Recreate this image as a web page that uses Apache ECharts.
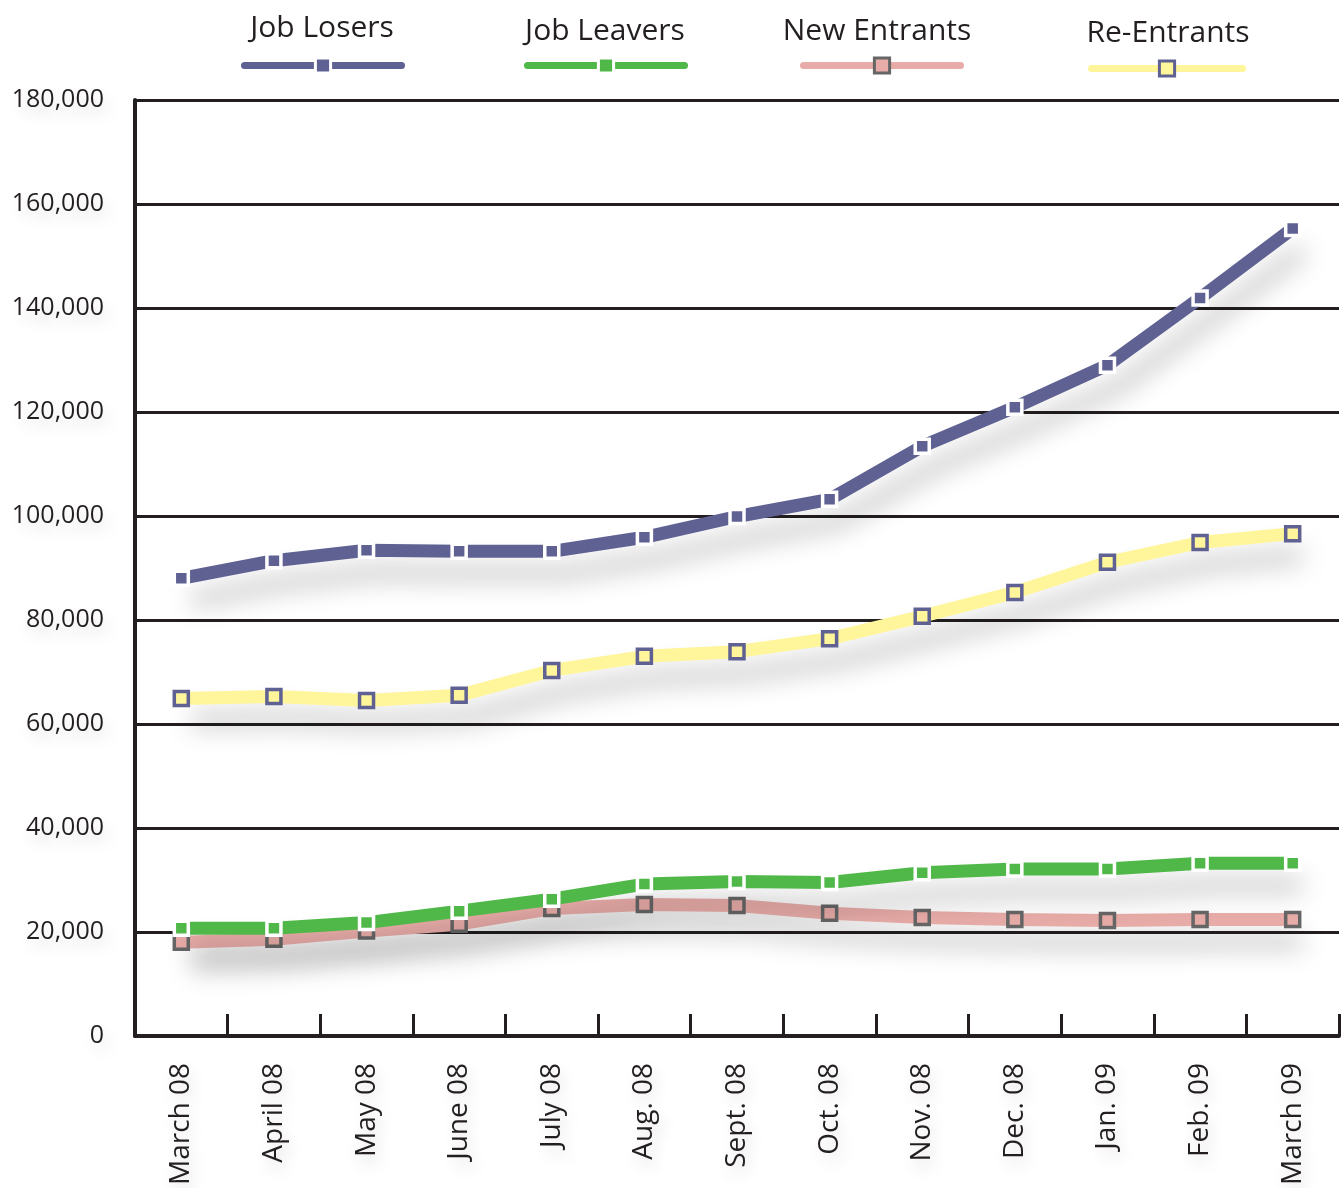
<!DOCTYPE html>
<html>
<head>
<meta charset="utf-8">
<script src="https://cdn.jsdelivr.net/npm/echarts@6/dist/echarts.min.js"></script>
<style>
html,body{margin:0;padding:0;background:#fff;}
#chart{width:1343px;height:1188px;}
</style>
</head>
<body>
<div id="chart"></div>
<script>
const categories = ['March 08','April 08','May 08','June 08','July 08','Aug. 08','Sept. 08','Oct. 08','Nov. 08','Dec. 08','Jan. 09','Feb. 09','March 09'];
const jobLosers   = [88000, 91400, 93400, 93200, 93200, 95900, 99900, 103200, 113400, 120900, 129000, 141900, 155300];
const jobLeavers  = [20700, 20700, 21800, 24000, 26300, 29200, 29700, 29500, 31400, 32100, 32100, 33200, 33200];
const newEntrants = [18000, 18600, 20200, 21500, 24500, 25300, 25100, 23600, 22800, 22400, 22200, 22400, 22400];
const reEntrants  = [64900, 65300, 64500, 65500, 70300, 73000, 73900, 76400, 80700, 85300, 91100, 94900, 96600];
const yTicks = [0, 20000, 40000, 60000, 80000, 100000, 120000, 140000, 160000, 180000];

const FONT = '"Open Sans", "Noto Sans", sans-serif';
const TXT = '#231f20';
const shadowText = {textShadowColor:'rgba(0,0,0,0.16)', textShadowBlur:16, textShadowOffsetX:4, textShadowOffsetY:8};

const C = {
  losers:'#5f6193', leavers:'#50b848', newE:'#e8aca8', reE:'#fff59a', gray:'#666666'
};

function mkSeries(name, data, color, markerBorder, z){
  return {
    name, type:'line', data, z,
    symbol:'rect', symbolSize:14,
    lineStyle:{width:13, color, shadowColor:'rgba(0,0,0,0.26)', shadowBlur:26, shadowOffsetX:10, shadowOffsetY:22},
    itemStyle:{color, borderColor:markerBorder, borderWidth:3.5},
    emphasis:{disabled:true},
    animation:false
  };
}

const legendDefs = [
  {name:'Job Losers', left:241, top:56, w:157, color:C.losers, border:'#ffffff', cx:322, ty:13},
  {name:'Job Leavers', left:524, top:56, w:157, color:C.leavers, border:'#ffffff', cx:605, ty:16},
  {name:'New Entrants', left:800, top:56, w:157, color:C.newE, border:C.gray, cx:877, ty:16},
  {name:'Re-Entrants', left:1088, top:59, w:151, color:C.reE, border:C.losers, cx:1168, ty:18}
];

const chart = echarts.init(document.getElementById('chart'), null, {renderer:'canvas'});
chart.setOption({
  backgroundColor:'#ffffff',
  animation:false,
  grid:{left:135, right:4, top:100, bottom:152, containLabel:false},
  legend: legendDefs.map(d => ({
    data:[d.name], left:d.left, top:d.top, padding:0,
    itemWidth:d.w, itemHeight:19, selectedMode:false,
    formatter:() => '',
    lineStyle:{width:7, cap:'round', color:d.color},
    itemStyle:{color:d.color, borderColor:d.border, borderWidth:3}
  })),
  graphic: legendDefs.map(d => ({
    type:'text', x:d.cx, y:d.ty, z:100,
    style:{text:d.name, font:'30px ' + FONT, fill:TXT, align:'center', textAlign:'center',
      shadowColor:'rgba(0,0,0,0.15)', shadowBlur:16, shadowOffsetX:4, shadowOffsetY:10}
  })),
  xAxis:{
    type:'category', data:categories, boundaryGap:true,
    axisLine:{show:true, lineStyle:{color:TXT, width:4}},
    axisTick:{show:true, inside:true, length:22, lineStyle:{color:TXT, width:3}, alignWithLabel:false},
    axisLabel:Object.assign({rotate:90, margin:27, fontSize:28, fontFamily:FONT, color:TXT, interval:0}, shadowText),
    splitLine:{show:false}
  },
  yAxis:{
    type:'value', min:0, max:180000, interval:20000,
    axisLine:{show:true, lineStyle:{color:TXT, width:4}},
    axisTick:{show:false},
    axisLabel:Object.assign({margin:31, fontSize:25, fontFamily:FONT, color:TXT,
      formatter:v => yTicks.includes(v) ? v.toLocaleString('en-US') : ''}, shadowText),
    splitLine:{show:true, lineStyle:{color:TXT, width:3}}
  },
  series:[
    mkSeries('Job Losers', jobLosers, C.losers, '#ffffff', 5),
    mkSeries('New Entrants', newEntrants, C.newE, C.gray, 3),
    mkSeries('Job Leavers', jobLeavers, C.leavers, '#ffffff', 4),
    mkSeries('Re-Entrants', reEntrants, C.reE, C.losers, 5)
  ]
});
</script>
</body>
</html>
